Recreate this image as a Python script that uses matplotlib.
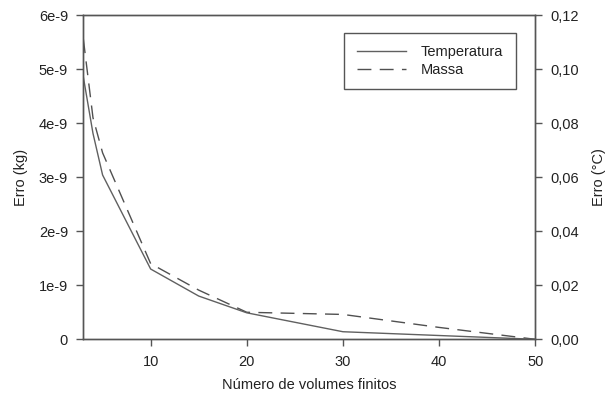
import matplotlib.pyplot as plt
from matplotlib.ticker import FuncFormatter, MultipleLocator

plt.rcParams["font.family"] = ["Liberation Sans", "DejaVu Sans"]
plt.rcParams["font.size"] = 10.5

# numero de volumes finitos
n_volumes = [3, 4, 5, 10, 15, 20, 30, 40, 50]
# erro da temperatura (°C)
erro_temp = [0.097, 0.0762, 0.0608, 0.026, 0.0160, 0.0098, 0.0028, 0.0014, 0.0]
# erro da massa (kg)
erro_massa = [5.55e-9, 4.1e-9, 3.45e-9, 1.40e-9, 0.91e-9, 0.50e-9, 0.46e-9, 0.22e-9, 0.0]

cor_eixo = "#555555"
cor_texto = "#222222"

fig = plt.figure(figsize=(6.13, 3.98), dpi=100)
ax = fig.add_axes([0.136, 0.1475, 0.737, 0.8148])
ax2 = ax.twinx()

l1, = ax2.plot(n_volumes, erro_temp, "-", color="#606060", lw=1.0,
               label="Temperatura")
l2, = ax.plot(n_volumes, erro_massa, color="#505050", lw=1.0,
              dashes=(10, 6), label="Massa")

ax.set_xlim(3, 50)
ax.set_ylim(0, 6e-9)
ax2.set_ylim(0, 0.12)
ax.set_xticks([10, 20, 30, 40, 50])
ax.yaxis.set_major_locator(MultipleLocator(1e-9))
ax2.yaxis.set_major_locator(MultipleLocator(0.02))
ax.yaxis.set_major_formatter(FuncFormatter(
    lambda v, p: "0" if abs(v) < 1e-12 else f"{round(v / 1e-9):d}e-9"))
ax2.yaxis.set_major_formatter(FuncFormatter(
    lambda v, p: f"{v:.2f}".replace(".", ",")))

for a in (ax, ax2):
    for s in a.spines.values():
        s.set_color(cor_eixo)
        s.set_linewidth(1.0)
    a.tick_params(direction="out", length=5, width=1.0, color=cor_eixo,
                  labelcolor=cor_texto, labelsize=10.5, pad=6)

ax.set_xlabel("Número de volumes finitos", color=cor_texto, labelpad=7)
ax.set_ylabel("Erro (kg)", color=cor_texto, labelpad=8)
ax2.set_ylabel("Erro (°C)", color=cor_texto, labelpad=9)

leg = ax2.legend([l1, l2], ["Temperatura", "Massa"], loc="upper right",
                 bbox_to_anchor=(0.957, 0.945), fancybox=False,
                 framealpha=1, edgecolor=cor_eixo, handlelength=3.4,
                 handletextpad=1.0, borderpad=0.85, labelspacing=0.25,
                 borderaxespad=0)
leg.get_frame().set_linewidth(1.0)
for t in leg.get_texts():
    t.set_color(cor_texto)

fig.savefig("out.png", dpi=100)
